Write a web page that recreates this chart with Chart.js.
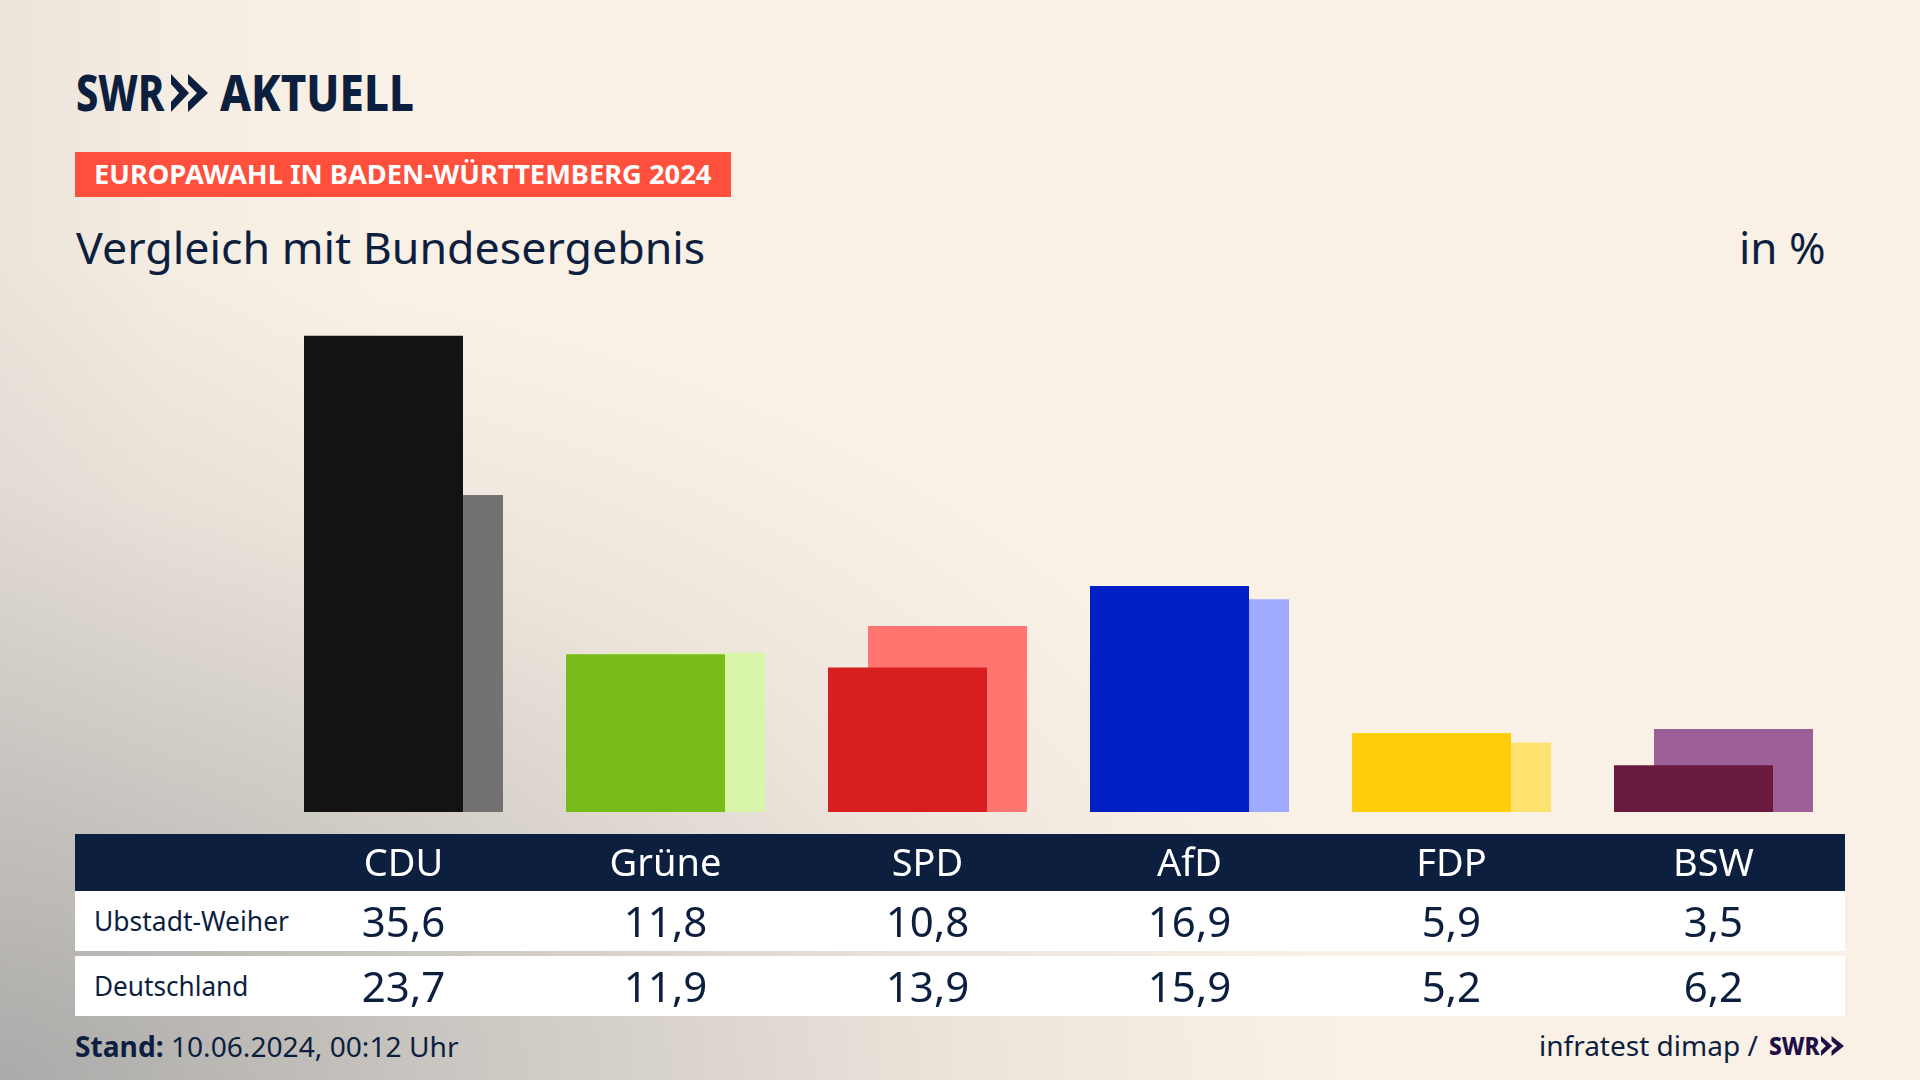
<!DOCTYPE html>
<html lang="de">
<head>
<meta charset="UTF-8">
<title>Europawahl in Baden-Württemberg 2024</title>
<script src="https://cdn.jsdelivr.net/npm/chart.js"></script>
<style>
    html, body { margin: 0; padding: 0; }
    body {
        position: relative;
        width: 1920px;
        height: 1080px;
        overflow: hidden;
        color: #0d1f3f;
        font-family: "Noto Sans", sans-serif;
        background-color: #faf1e6;
        background-image:
            radial-gradient(ellipse 1350px 820px at 0 1080px, rgba(160,160,160,.85) 0%, rgba(176,175,173,.55) 42%, rgba(190,186,182,.22) 72%, rgba(200,195,190,0) 100%),
            linear-gradient(90deg, rgba(190,188,185,.24) 0, rgba(190,188,185,.09) 160px, rgba(190,188,185,0) 380px);
    }
    .txt { position: absolute; white-space: nowrap; transform-origin: 0 50%; }
    .logo { font-weight: 800; font-size: 50px; line-height: 50px; top: 67px; color: #0d1f3f; }
    #banner { position: absolute; left: 75px; top: 152px; width: 656px; height: 45px; background: #ff4f3d; }
    #bannerText { left: 94px; top: 155px; font-size: 27px; line-height: 38px; font-weight: 700; color: #fff; }
    #title { left: 76px; top: 217px; font-size: 44px; line-height: 60px; }
    #unit { left: 1739px; top: 217px; font-size: 44px; line-height: 60px; }
    #tableHead { position: absolute; left: 75px; top: 834px; width: 1770px; height: 57px; background: #0d1f3f; }
    .row { position: absolute; left: 75px; width: 1770px; height: 60px; background: #fff; }
    .rowLabel { font-size: 27px; line-height: 60px; left: 95px; }
    .cell { position: absolute; font-size: 42px; line-height: 60px; transform: translateX(-50%); }
    #stand, #source { font-size: 28px; line-height: 40px; }
    #stand { top: 1026px; }
    #source { top: 1025px; }
    #stand b { font-weight: 700; }
    #chart { position: absolute; left: 0; top: 277px; }
</style>
</head>
<body>
    <div class="txt logo" id="logoSwr">SWR</div>
    <svg style="position:absolute;left:171px;top:74px" width="37" height="38" viewBox="0 0 37 38">
        <path fill="#0d1f3f" d="M0 0 L18 19 L0 38 L0 28 L8 19 L0 10 Z M17 0 L37 19 L17 38 L17 28 L26 19 L17 10 Z"/>
    </svg>
    <div class="txt logo" id="logoAktuell">AKTUELL</div>

    <div id="banner"></div>
    <div class="txt" id="bannerText">EUROPAWAHL IN BADEN-WÜRTTEMBERG 2024</div>
    <div class="txt" id="title">Vergleich mit Bundesergebnis</div>
    <div class="txt" id="unit">in %</div>

    <div id="tableHead"></div>
    <div class="row" style="top:891px"></div>
    <div class="row" style="top:956px"></div>
    <div class="txt rowLabel" id="label0" style="top:891px"></div>
    <div class="txt rowLabel" id="label1" style="top:956px"></div>

    <canvas id="chart" width="1920" height="615"></canvas>

    <div class="txt" id="stand"><b>Stand:</b> 10.06.2024, 00:12 Uhr</div>
    <div class="txt" id="source">infratest dimap /</div>
    <div class="txt" id="swrSmall" style="top:1030px;font-size:25px;line-height:30px;font-weight:800;color:#1f0f45">SWR</div>
    <svg style="position:absolute;left:1821px;top:1036px" width="23" height="20" viewBox="0 0 37 38" preserveAspectRatio="none">
        <path fill="#1f0f45" d="M0 0 L18 19 L0 38 L0 28 L8 19 L0 10 Z M17 0 L37 19 L17 38 L17 28 L26 19 L17 10 Z"/>
    </svg>

    <script>
        const parties = ['CDU', 'Grüne', 'SPD', 'AfD', 'FDP', 'BSW'];
        const regions = ['Ubstadt-Weiher', 'Deutschland'];
        const ubstadt = [35.6, 11.8, 10.8, 16.9, 5.9, 3.5];
        const deutschland = [23.7, 11.9, 13.9, 15.9, 5.2, 6.2];

        const strongColors = ['#131313', '#79bc1a', '#d81f1f', '#0020c6', '#ffcd0a', '#6b1a3f'];
        const lightColors = ['#747271', '#d8f5aa', '#ff7670', '#9eabff', '#ffe16f', '#9c5f97'];

        // squeeze a text so it fills the measured width
        function fit(id, left, width) {
            const el = document.getElementById(id);
            el.style.left = left + 'px';
            el.style.transform = 'scaleX(' + (width / el.offsetWidth) + ')';
        }

        // Bars overlap: the slot is 40px wide, the bar 159px
        const chart = new Chart(document.getElementById('chart'), {
            type: 'bar',
            data: {
                labels: parties,
                datasets: [
                    { label: regions[0], data: ubstadt, backgroundColor: strongColors },
                    { label: regions[1], data: deutschland, backgroundColor: lightColors }
                ]
            },
            options: {
                responsive: false,
                animation: false,
                layout: { padding: { left: 272.5, right: 75.5, top: 0, bottom: 0 } },
                datasets: { bar: { categoryPercentage: 80 / 262, barPercentage: 159 / 40 } },
                scales: {
                    x: {
                        afterFit: (scale) => { scale.height = 80; },
                        grid: { display: false },
                        border: { display: false },
                        ticks: {
                            color: '#ffffff',
                            padding: 22,
                            maxRotation: 0,
                            autoSkip: false,
                            font: { family: '"Noto Sans"', size: 38 }
                        }
                    },
                    y: { display: false, min: 0, max: 40 }
                },
                plugins: {
                    legend: { display: false },
                    tooltip: { enabled: false }
                }
            }
        });

        // table rows sit under the chart's own category positions
        [ubstadt, deutschland].forEach((values, r) => {
            document.getElementById('label' + r).textContent = regions[r];
            values.forEach((v, i) => {
                const cell = document.createElement('div');
                cell.className = 'cell';
                cell.textContent = v.toFixed(1).replace('.', ',');
                cell.style.left = chart.scales.x.getPixelForTick(i) + 'px';
                cell.style.top = (r === 0 ? 891 : 956) + 'px';
                document.body.appendChild(cell);
            });
        });

        fit('logoSwr', 76, 88);
        fit('logoAktuell', 220, 194);
        fit('bannerText', 94, 617);
        fit('title', 76, 629);
        fit('unit', 1739, 87);
        fit('label0', 94, 195);
        fit('label1', 94, 154);
        fit('stand', 75, 384);
        fit('source', 1539, 219);
        fit('swrSmall', 1769, 51);
    </script>
</body>
</html>
